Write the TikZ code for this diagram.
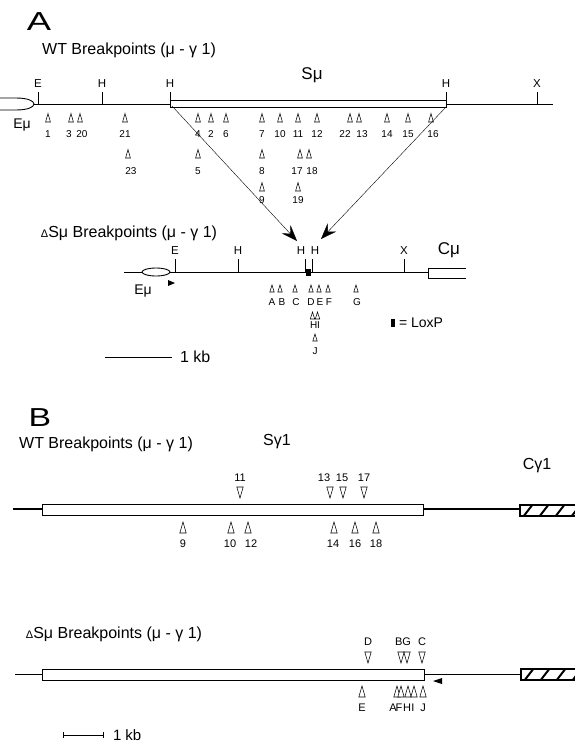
\documentclass[tikz,border=0pt]{standalone}
\usepackage{fontspec}
\setmainfont{Liberation Sans}
\usetikzlibrary{arrows.meta}
\newcommand\fsz[1]{\fontsize{#1}{#1}\selectfont}
\begin{document}
\begin{tikzpicture}[x=1pt,y=-1pt,
  dna/.style={line width=0.9pt},
  tickl/.style={line width=0.9pt},
  tri/.style={line width=0.55pt,fill=white},
  txt/.style={inner sep=0pt,outer sep=0pt},
  site/.style={txt,font=\fsz{11.5}},
  numA/.style={txt,font=\fsz{10}},
  numB/.style={txt,font=\fsz{11}},
  title/.style={txt,font=\fsz{16}},
  big/.style={txt,font=\fsz{26}},
  gene/.style={txt,font=\fsz{17}},
  jump/.style={line width=0.4pt,-{Stealth[length=16pt,width=12pt,inset=6pt]}},
  triA/.pic={\draw[tri] (-2.4,0) -- (0,-8.5) -- (2.4,0) -- cycle;},
  triAs/.pic={\draw[tri] (-2.2,0) -- (0,-7) -- (2.2,0) -- cycle;},
  triBu/.pic={\draw[tri] (-3.2,0) -- (0,-11) -- (3.2,0) -- cycle;},
  triBd/.pic={\draw[tri] (-3.2,0) -- (0,11) -- (3.2,0) -- cycle;},
]
\useasboundingbox (0,0) rectangle (575,747);

% ================= A =================
\node[big] (lblA) at (39,22) {\scalebox{1.4}[1]{A}};
\node[title] (tA1) at (129,50) {WT Breakpoints (μ - γ 1)};

% WT map
\draw[dna] (0,98) -- (16,98) .. controls (28,98) and (34,101) .. (34,104)
           .. controls (34,107) and (28,110) .. (16,110) -- (0,110);
\draw[dna] (34,104) -- (170,104);
\draw[dna] (446,104) -- (553,104);
\foreach \x/\l/\n in {38/E/e1,102/H/h1,170/H/h2,446/H/h3,537/X/x1}{
  \draw[tickl] (\x,92) -- (\x,104);
  \node[site] (s\n) at (\x,84) {\l};
}
\draw[line width=0.9pt,fill=white] (170,100) rectangle (446,107);
\node[gene] (Smu) at (312,75) {Sμ};
\node[txt,font=\fsz{14}] (Emu1) at (22,125) {Eμ};

% WT breakpoints rows
\foreach \t/\x/\l [count=\i] in {48/48/1,71/69/3,80/82/20,125/125/21,198/198/4,211/211/2,
   226/226/6,262/262/7,280/280/10,298/298/11,317/317/12,350/345/22,359/362/13,
   387/387/14,408/408/15,431/433/16}{
  \pic at (\t,122) {triA};
  \node[numA] (ra\i) at (\x,134) {\l};
}
\foreach \t/\x/\l [count=\i] in {128/131/23,198/198/5,262/262/8,300/297/17,309/312/18}{
  \pic at (\t,158) {triA};
  \node[numA] (rb\i) at (\x,171) {\l};
}
\foreach \t/\x/\l [count=\i] in {262/262/9,298/298/19}{
  \pic at (\t,191) {triA};
  \node[numA] (rc\i) at (\x,200) {\l};
}

% Delta S mu map
\node[title] (tA2) at (129,233) {{\fsz{11}Δ}Sμ Breakpoints (μ - γ 1)};
\draw[dna] (124,272) -- (428,272);
\draw[dna,fill=white] (156,272) ellipse [x radius=14, y radius=4];
\draw[dna] (466,268) -- (428,268) -- (428,278) -- (466,278);
\foreach \x/\n in {175/e,238/h,305/hl,312/hr,404/x}{
  \draw[tickl] (\x,259) -- (\x,272);
}
\node[site] (d2e) at (175,251) {E};
\node[site] (d2h) at (238,251) {H};
\node[site] (d2hl) at (301,251) {H};
\node[site] (d2hr) at (315,251) {H};
\node[site] (d2x) at (404,251) {X};
\fill (306,268.5) rectangle (310.5,276);
\node[gene] (Cmu) at (449,250) {Cμ};
\node[txt,font=\fsz{14}] (Emu2) at (143,291) {Eμ};
\fill (168,280) -- (175,283) -- (168,286) -- cycle;

\foreach \t/\x/\l [count=\i] in {272/272/A,280/282/B,295/296/C,311/311/D,319/320/E,328/329/F,356/357/G}{
  \pic at (\t,292) {triAs};
  \node[numA] (dl\i) at (\x,302) {\l};
}
\pic at (312.5,319) {triAs};
\pic at (317.5,319) {triAs};
\node[numA] (dHI) at (315,325) {HI};
\pic at (315,341) {triAs};
\node[numA] (dJ) at (315,351) {J};

% connectors
\coordinate (fromL) at (172,106);
\coordinate (fromR) at (446,107);
\coordinate (toL) at (297,241);
\coordinate (toR) at (321,239);
\draw[jump] (fromL) -- (toL);
\draw[jump] (fromR) -- (toR);

% legend and scale
\fill (391,319) rectangle (395,327);
\node[txt,font=\fsz{14},anchor=west] (lox) at (399,323) {= LoxP};
\draw[line width=0.8pt] (105,357) -- (172,357);
\node[txt,font=\fsz{16},anchor=west] (kbA) at (180,357) {1 kb};

% ================= B =================
\node[big] (lblB) at (40,418) {\scalebox{1.3}[1]{B}};
\node[title] (tB1) at (106,444) {WT Breakpoints (μ - γ 1)};
\node[txt,font=\fsz{16}] (Sg) at (277,442) {Sγ1};
\node[txt,font=\fsz{16}] (Cg) at (537,466) {Cγ1};

\draw[line width=1.3pt] (13,509) -- (42,509);
\draw[line width=1pt] (42,504.5) rectangle (423,515.5);
\draw[line width=1.1pt] (423,509) -- (520,509);
\begin{scope}
  \clip (520,505) rectangle (576,516);
  \foreach \s in {523,539,555,571}{\draw[line width=2pt] (\s,517) -- (\s+10,504);}
\end{scope}
\draw[line width=1.6pt] (577,505) -- (520,505) -- (520,516) -- (577,516);

\foreach \t/\x/\l [count=\i] in {240/240/11,330/324/13,343/342/15,364/364/17}{
  \pic at (\t,487) {triBd};
  \node[numB] (bu\i) at (\x,478) {\l};
}
\foreach \t/\x/\l [count=\i] in {183/183/9,231/230/10,248/251/12,334/333/14,355/355/16,376/376/18}{
  \pic at (\t,533) {triBu};
  \node[numB] (bd\i) at (\x,544) {\l};
}

\node[title] (tB2) at (114,634) {{\fsz{11}Δ}Sμ Breakpoints (μ - γ 1)};
\draw[line width=1.3pt] (15,674.5) -- (42,674.5);
\draw[line width=1pt] (42,669) rectangle (424,680);
\draw[line width=1.1pt] (424,674.5) -- (521,674.5);
\begin{scope}
  \clip (521,669) rectangle (576,680);
  \foreach \s in {524,540,556,572}{\draw[line width=2pt] (\s,681) -- (\s+10,668);}
\end{scope}
\draw[line width=1.6pt] (577,669) -- (521,669) -- (521,680) -- (577,680);
\fill (433,681) -- (442,678) -- (442,684) -- cycle;

\foreach \t in {368,401,407,422}{\pic at (\t,652) {triBd};}
\node[numB] (sD) at (368,642) {D};
\node[numB] (sBG) at (403,642) {BG};
\node[numB] (sC) at (422,642) {C};
\foreach \t in {362,397,401,408,414,423}{\pic at (\t,697) {triBu};}
\foreach \x/\l [count=\i] in {362/E,393/A,399/F,407/H,413/I,423/J}{
  \node[numB] (sl\i) at (\x,708) {\l};
}

\draw[line width=1pt] (63,735) -- (103,735);
\draw[line width=1pt] (63,732) -- (63,738);
\draw[line width=1pt] (103,732) -- (103,738);
\node[txt,font=\fsz{15},anchor=west] (kbB) at (113,735) {1 kb};
\end{tikzpicture}
\end{document}
